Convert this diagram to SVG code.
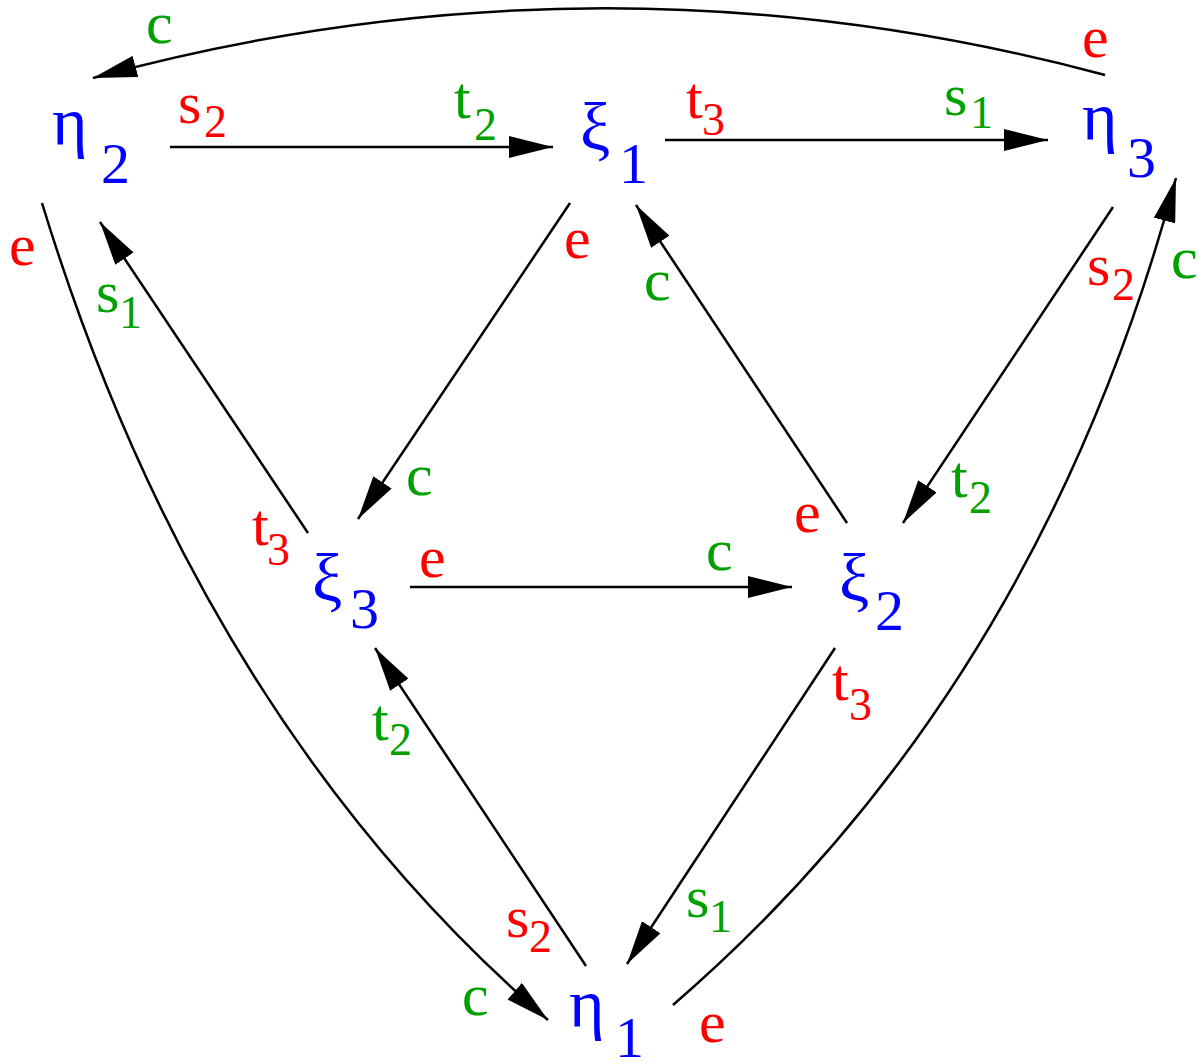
<svg xmlns="http://www.w3.org/2000/svg" width="1199" height="1064" viewBox="0 0 1199 1064">
<style>
text{font-family:'Liberation Serif','Times New Roman','DejaVu Serif',serif}
.n{fill:#0000ff;font-size:68px}
.ns{fill:#0000ff;font-size:58px}
.r{fill:#ff0000;font-size:60px}
.g{fill:#00a000;font-size:60px}
.rs{fill:#ff0000;font-size:46px}
.gs{fill:#00a000;font-size:46px}
.e{fill:none;stroke:#000;stroke-width:2.5;marker-end:url(#ah)}
</style>
<defs>
<marker id="ah" viewBox="0 0 44 22" refX="44" refY="11" markerWidth="44" markerHeight="22" markerUnits="userSpaceOnUse" orient="auto">
<path d="M0,0 L44,11 L0,22 z" fill="#000"/>
</marker>
</defs>
<rect width="1199" height="1064" fill="#fff"/>
<g id="connectors">
<path id="e-eta3-eta2" class="e" d="M1105,75 Q600,-60 93,78"/>
<path id="e-eta2-xi1" class="e" d="M170,147 L553,147"/>
<path id="e-xi1-eta3" class="e" d="M665,140 L1048,140"/>
<path id="e-eta2-eta1" class="e" d="M42,203 Q200,720 548,1020"/>
<path id="e-eta1-eta3" class="e" d="M673,1005 Q1038,690 1176,178"/>
<path id="e-xi1-xi3" class="e" d="M570,203 L358,519"/>
<path id="e-xi2-xi1" class="e" d="M847,523 L636,205"/>
<path id="e-eta3-xi2" class="e" d="M1113,207 L903,523"/>
<path id="e-xi3-eta2" class="e" d="M308,533 L100,222"/>
<path id="e-xi3-xi2" class="e" d="M410,587 L792,587"/>
<path id="e-xi2-eta1" class="e" d="M835,648 L627,964"/>
<path id="e-eta1-xi3" class="e" d="M586,966 L375,648"/>
</g>
<g id="edge-labels">
<text class="g" x="146" y="43">c</text>
<text class="r" x="1082" y="57">e</text>
<text class="r" x="178" y="123">s</text><text class="rs" x="204" y="137">2</text>
<text class="g" x="454" y="118">t</text><text class="gs" x="474" y="140">2</text>
<text class="r" x="686" y="118">t</text><text class="rs" x="702" y="135">3</text>
<text class="g" x="944" y="115">s</text><text class="gs" x="970" y="128">1</text>
<text class="r" x="9" y="265">e</text>
<text class="g" x="96" y="312">s</text><text class="gs" x="119" y="328">1</text>
<text class="r" x="564" y="258">e</text>
<text class="g" x="644" y="300">c</text>
<text class="r" x="1087" y="285">s</text><text class="rs" x="1112" y="300">2</text>
<text class="g" x="1171" y="278">c</text>
<text class="g" x="406" y="495">c</text>
<text class="r" x="252" y="545">t</text><text class="rs" x="267" y="565">3</text>
<text class="r" x="419" y="577">e</text>
<text class="g" x="706" y="570">c</text>
<text class="r" x="794" y="532">e</text>
<text class="g" x="951" y="497">t</text><text class="gs" x="969" y="513">2</text>
<text class="r" x="832" y="700">t</text><text class="rs" x="849" y="720">3</text>
<text class="g" x="372" y="740">t</text><text class="gs" x="389" y="755">2</text>
<text class="r" x="506" y="937">s</text><text class="rs" x="529" y="952">2</text>
<text class="g" x="686" y="917">s</text><text class="gs" x="709" y="932">1</text>
<text class="g" x="462" y="1015">c</text>
<text class="r" x="699" y="1042">e</text>
</g>
<g id="node-eta2"><text class="n" x="52" y="145">η</text><text class="ns" x="101" y="183">2</text></g>
<g id="node-xi1"><text class="n" x="580" y="150">ξ</text><text class="ns" x="619" y="183">1</text></g>
<g id="node-eta3"><text class="n" x="1082" y="140">η</text><text class="ns" x="1127" y="177">3</text></g>
<g id="node-xi3"><text class="n" x="312" y="601">ξ</text><text class="ns" x="350" y="628">3</text></g>
<g id="node-xi2"><text class="n" x="839" y="601">ξ</text><text class="ns" x="875" y="630">2</text></g>
<g id="node-eta1"><text class="n" x="569" y="1027">η</text><text class="ns" x="615" y="1057">1</text></g>
</svg>
